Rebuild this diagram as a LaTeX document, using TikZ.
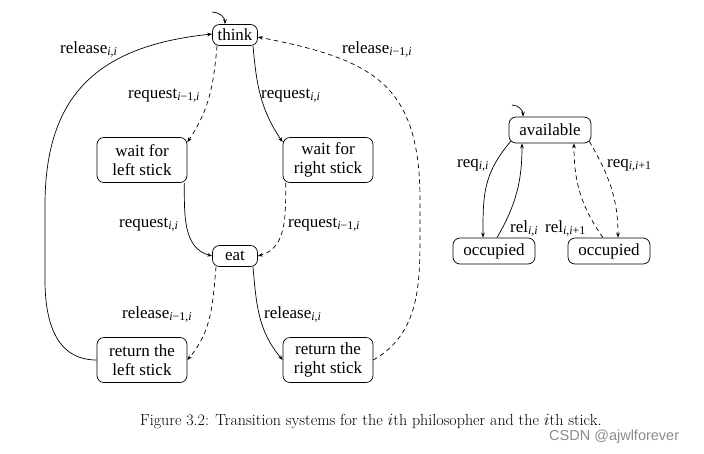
\documentclass[tikz,border=0pt]{standalone}
\usepackage{fontspec}
\setmainfont{Liberation Serif}
\newfontfamily\capfont{Latin Modern Roman}
\newfontfamily\wmfont{Liberation Sans}
\usetikzlibrary{arrows.meta}
\newcommand\dfs{\rmfamily\fontsize{17}{18.5}\selectfont}
\tikzset{
  st/.style={draw, rounded corners=7pt, line width=0.7pt, align=center, font=\dfs, inner sep=1pt},
  small/.style={st, minimum width=45pt, minimum height=21pt},
  big/.style={st, minimum width=90pt, minimum height=45pt},
  mid/.style={st, minimum width=82pt, minimum height=26pt},
  tr/.style={line width=0.7pt, -{Stealth[length=5pt,width=3.6pt]}},
  dsh/.style={dash pattern=on 4.5pt off 3.5pt},
  lbl/.style={font=\dfs, inner sep=0pt, anchor=base west}
}
\begin{document}
\begin{tikzpicture}[x=1pt,y=1pt]
\useasboundingbox (0,0) rectangle (704,-453);
% philosopher
\node[small] (think) at (235,-35) {think};
\node[big] (wl) at (142,-160) {wait for\\left stick};
\node[big] (wr) at (328,-160) {wait for\\right stick};
\node[small] (eat) at (235,-256) {eat};
\node[big] (rl) at (142,-360) {return the\\left stick};
\node[big] (rr) at (328,-360) {return the\\right stick};
\coordinate (i1) at (212,-12);
\draw[tr] (i1) to[out=0,in=90] ([xshift=-10pt]think.north);
\draw[tr,dsh] ([xshift=-18pt]think.south) to[out=-95,in=56] ([yshift=-5pt]wl.north east);
\draw[tr] ([xshift=18pt]think.south) to[out=-85,in=124] ([yshift=-5pt]wr.north west);
\draw[tr] ([xshift=-3pt]wl.south east) to[out=-90,in=165] (eat.west);
\draw[tr,dsh] ([xshift=3pt]wr.south west) to[out=-90,in=15] (eat.east);
\draw[tr,dsh] ([xshift=-19pt]eat.south) to[out=-95,in=50] (rl.east);
\draw[tr] ([xshift=18pt]eat.south) to[out=-85,in=130] (rr.west);
\draw[tr] (rl.west) to[out=180,in=-90,looseness=1.1] (45,-280) -- (45,-205) to[out=90,in=186,looseness=1.2] ([yshift=1pt]think.west);
\draw[tr,dsh] (rr.east) to[out=30,in=-90] (420,-230) -- (420,-200) to[out=90,in=-11,looseness=1.3] ([yshift=-2pt]think.east);
\node[lbl] (a1) at (60,-53) {release\textsubscript{\textit{i},\textit{i}}};
\node[lbl] (a2) at (342,-53) {release\textsubscript{\textit{i}−1,\textit{i}}};
\node[lbl] (a3) at (128,-98) {request\textsubscript{\textit{i}−1,\textit{i}}};
\node[lbl] (a4) at (261,-98) {request\textsubscript{\textit{i},\textit{i}}};
\node[lbl] (a5) at (119,-227) {request\textsubscript{\textit{i},\textit{i}}};
\node[lbl] (a6) at (288,-227) {request\textsubscript{\textit{i}−1,\textit{i}}};
\node[lbl] (a7) at (122,-318) {release\textsubscript{\textit{i}−1,\textit{i}}};
\node[lbl] (a8) at (264,-318) {release\textsubscript{\textit{i},\textit{i}}};
% stick
\node[mid] (av) at (550,-130) {available};
\node[mid] (o1) at (494,-251) {occupied};
\node[mid] (o2) at (609,-251) {occupied};
\coordinate (i2) at (512,-105);
\draw[tr] (i2) to[out=0,in=90] ([xshift=-27pt]av.north);
\draw[tr] ([shift={(2pt,2pt)}]av.south west) to[out=-130,in=90,looseness=1.1] ([xshift=-11pt]o1.north);
\draw[tr] ([xshift=3pt]o1.north) to[out=60,in=-90] ([xshift=-28pt]av.south);
\draw[tr,dsh] ([xshift=-6pt]o2.north) to[out=125,in=-90] ([xshift=24pt]av.south);
\draw[tr,dsh] ([shift={(-2pt,2pt)}]av.south east) to[out=-60,in=90] ([xshift=9pt]o2.north);
\node[lbl] (b1) at (457,-167) {req\textsubscript{\textit{i},\textit{i}}};
\node[lbl] (b2) at (607,-167) {req\textsubscript{\textit{i},\textit{i}+1}};
\node[lbl] (b3) at (510,-232) {rel\textsubscript{\textit{i},\textit{i}}};
\node[lbl] (b4) at (545,-232) {rel\textsubscript{\textit{i},\textit{i}+1}};
% caption
\node[anchor=base west, inner sep=0pt, font=\capfont\fontsize{16}{19}\selectfont] (cap) at (140,-425) {Figure 3.2: Transition systems for the $i$th philosopher and the $i$th stick.};
\node[anchor=base west, inner sep=0pt, text=black!45, font=\wmfont\fontsize{14.5}{17}\selectfont] (wm) at (549,-440) {CSDN @ajwlforever};
\end{tikzpicture}
\end{document}
